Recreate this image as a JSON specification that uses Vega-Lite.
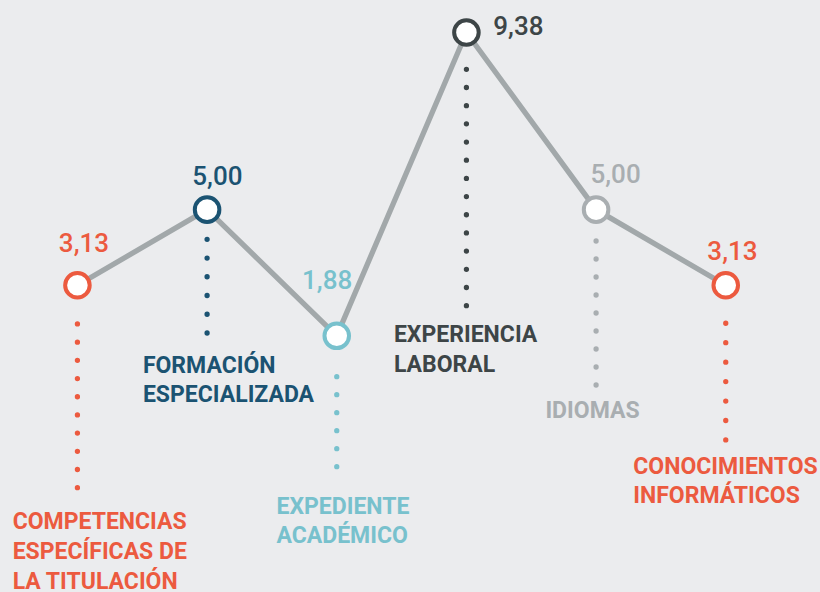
{
  "$schema": "https://vega.github.io/schema/vega-lite/v6.json",
  "width": 820,
  "height": 592,
  "autosize": {"type": "none"},
  "padding": 0,
  "background": "#EBECEE",
  "config": {
    "view": {"stroke": null},
    "locale": {"number": {"decimal": ",", "thousands": ".", "grouping": [3], "currency": ["", " €"]}},
    "text": {"font": "Roboto"}
  },
  "data": {
    "values": [
      {"orden": 1, "categoria": "COMPETENCIAS\nESPECÍFICAS DE\nLA TITULACIÓN", "valor": 3.13},
      {"orden": 2, "categoria": "FORMACIÓN\nESPECIALIZADA", "valor": 5.00},
      {"orden": 3, "categoria": "EXPEDIENTE\nACADÉMICO", "valor": 1.88},
      {"orden": 4, "categoria": "EXPERIENCIA\nLABORAL", "valor": 9.38},
      {"orden": 5, "categoria": "IDIOMAS", "valor": 5.00},
      {"orden": 6, "categoria": "CONOCIMIENTOS\nINFORMÁTICOS", "valor": 3.13}
    ]
  },
  "encoding": {
    "x": {"field": "orden", "type": "ordinal", "scale": {"type": "point", "padding": 0.662, "align": 0.451}, "axis": null},
    "y": {"field": "valor", "type": "quantitative", "scale": {"domain": [-4.455, 10.184], "nice": false, "zero": false}, "axis": null},
    "color": {"field": "orden", "type": "nominal", "legend": null,
      "scale": {"domain": [1, 2, 3, 4, 5, 6], "range": ["#EC5A3F", "#1B5372", "#78C1CD", "#3D4547", "#A9AEB1", "#EC5A3F"]}}
  },
  "layer": [
    {
      "mark": {"type": "line", "strokeWidth": 5.3, "strokeCap": "round"},
      "encoding": {"color": {"value": "#A2A8AA"}}
    },
    {
      "transform": [{"filter": "datum.orden == 1"}],
      "layer": [
        {"mark": {"type": "rule", "yOffset": 38.7, "y2Offset": 202.9, "strokeDash": [0.01, 18.18], "strokeCap": "round", "strokeWidth": 5.3}, "encoding": {"y2": {"field": "valor"}}},
        {"mark": {"type": "text", "align": "center", "baseline": "alphabetic", "dx": 6.5, "dy": -33, "fontSize": 26, "fontWeight": 500}, "encoding": {"text": {"field": "valor", "type": "quantitative", "format": ".2f"}}},
        {"mark": {"type": "text", "align": "left", "baseline": "alphabetic", "dx": -64.8, "dy": 244, "fontSize": 23, "fontWeight": "bold", "lineBreak": "\n", "lineHeight": 29.7}, "encoding": {"text": {"field": "categoria", "type": "nominal"}}}
      ]
    },
    {
      "transform": [{"filter": "datum.orden == 2"}],
      "layer": [
        {"mark": {"type": "rule", "yOffset": 29.65, "y2Offset": 123.8, "strokeDash": [0.01, 18.73], "strokeCap": "round", "strokeWidth": 5.3}, "encoding": {"y2": {"field": "valor"}}},
        {"mark": {"type": "text", "align": "center", "baseline": "alphabetic", "dx": 10.3, "dy": -24.6, "fontSize": 26, "fontWeight": 500}, "encoding": {"text": {"field": "valor", "type": "quantitative", "format": ".2f"}}},
        {"mark": {"type": "text", "align": "left", "baseline": "alphabetic", "dx": -64.2, "dy": 163.6, "fontSize": 23, "fontWeight": "bold", "lineBreak": "\n", "lineHeight": 29}, "encoding": {"text": {"field": "categoria", "type": "nominal"}}}
      ]
    },
    {
      "transform": [{"filter": "datum.orden == 3"}],
      "layer": [
        {"mark": {"type": "rule", "yOffset": 40.9, "y2Offset": 131.4, "strokeDash": [0.01, 17.99], "strokeCap": "round", "strokeWidth": 5.3}, "encoding": {"y2": {"field": "valor"}}},
        {"mark": {"type": "text", "align": "center", "baseline": "alphabetic", "dx": -9.6, "dy": -46.5, "fontSize": 26, "fontWeight": 500}, "encoding": {"text": {"field": "valor", "type": "quantitative", "format": ".2f"}}},
        {"mark": {"type": "text", "align": "left", "baseline": "alphabetic", "dx": -60.3, "dy": 178.2, "fontSize": 23, "fontWeight": "bold", "lineBreak": "\n", "lineHeight": 29.3}, "encoding": {"text": {"field": "categoria", "type": "nominal"}}}
      ]
    },
    {
      "transform": [{"filter": "datum.orden == 4"}],
      "layer": [
        {"mark": {"type": "rule", "yOffset": 36.8, "y2Offset": 273.7, "strokeDash": [0.01, 18.17], "strokeCap": "round", "strokeWidth": 5.3}, "encoding": {"y2": {"field": "valor"}}},
        {"mark": {"type": "text", "align": "left", "baseline": "alphabetic", "dx": 26.9, "dy": 2.5, "fontSize": 26, "fontWeight": 500}, "encoding": {"text": {"field": "valor", "type": "quantitative", "format": ".2f"}}},
        {"mark": {"type": "text", "align": "left", "baseline": "alphabetic", "dx": -72.5, "dy": 309.2, "fontSize": 23, "fontWeight": "bold", "lineBreak": "\n", "lineHeight": 30}, "encoding": {"text": {"field": "categoria", "type": "nominal"}}}
      ]
    },
    {
      "transform": [{"filter": "datum.orden == 5"}],
      "layer": [
        {"mark": {"type": "rule", "yOffset": 31.35, "y2Offset": 175.8, "strokeDash": [0.01, 17.99], "strokeCap": "round", "strokeWidth": 5.3}, "encoding": {"y2": {"field": "valor"}}},
        {"mark": {"type": "text", "align": "center", "baseline": "alphabetic", "dx": 19.5, "dy": -26.3, "fontSize": 26, "fontWeight": 500}, "encoding": {"text": {"field": "valor", "type": "quantitative", "format": ".2f"}}},
        {"mark": {"type": "text", "align": "left", "baseline": "alphabetic", "dx": -50.7, "dy": 208, "fontSize": 23, "fontWeight": "bold", "lineBreak": "\n", "lineHeight": 29.5}, "encoding": {"text": {"field": "categoria", "type": "nominal"}}}
      ]
    },
    {
      "transform": [{"filter": "datum.orden == 6"}],
      "layer": [
        {"mark": {"type": "rule", "yOffset": 38, "y2Offset": 155.2, "strokeDash": [0.01, 19.44], "strokeCap": "round", "strokeWidth": 5.3}, "encoding": {"y2": {"field": "valor"}}},
        {"mark": {"type": "text", "align": "center", "baseline": "alphabetic", "dx": 6.7, "dy": -25.3, "fontSize": 26, "fontWeight": 500}, "encoding": {"text": {"field": "valor", "type": "quantitative", "format": ".2f"}}},
        {"mark": {"type": "text", "align": "left", "baseline": "alphabetic", "dx": -92.5, "dy": 189, "fontSize": 23, "fontWeight": "bold", "lineBreak": "\n", "lineHeight": 29}, "encoding": {"text": {"field": "categoria", "type": "nominal"}}}
      ]
    },
    {
      "mark": {"type": "point", "shape": "circle", "size": 603, "strokeWidth": 4, "filled": false, "fill": "#FFFFFF", "fillOpacity": 1, "opacity": 1}
    }
  ]
}
